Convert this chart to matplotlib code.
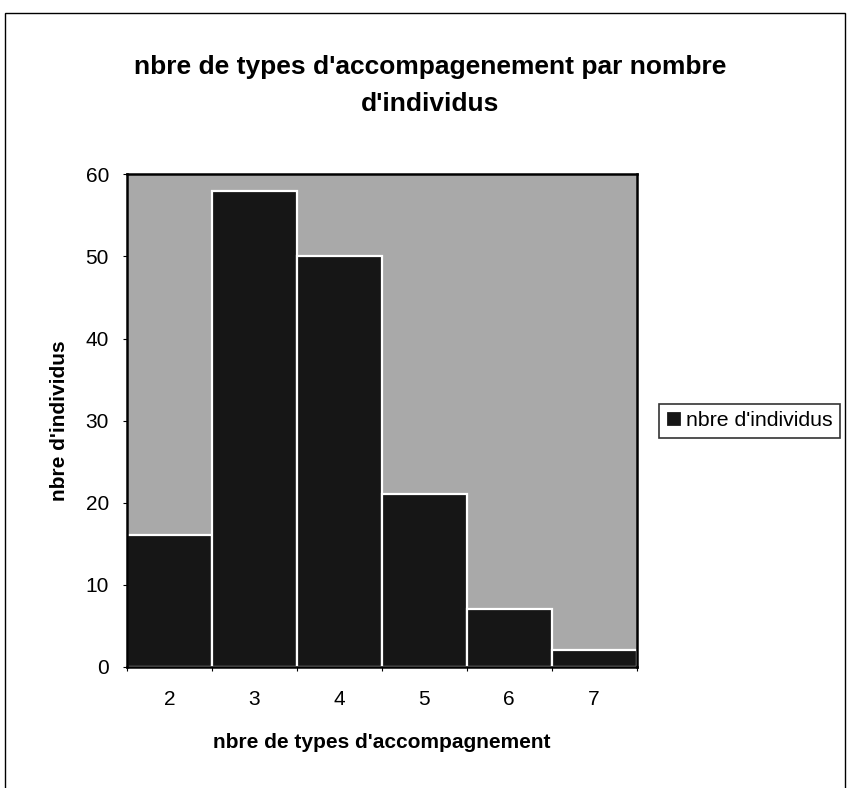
import matplotlib

matplotlib.use("Agg")
import matplotlib.pyplot as plt
from matplotlib.patches import Rectangle

plt.rcParams["font.family"] = ["Liberation Sans", "DejaVu Sans"]

# ---------------------------------------------------------------- data
types = [2, 3, 4, 5, 6, 7]
individus = [16, 58, 50, 21, 7, 2]
series = "nbre d'individus"
title = ["nbre de types d'accompagenement par nombre", "d'individus"]

BAR, BG = "#161616", "#a9a9a9"

fig = plt.figure(figsize=(8.5, 7.88), dpi=100)
ax = fig.add_axes([0.1494, 0.154, 0.5996, 0.6246])
ax.set_facecolor(BG)

xs = range(len(types))
ax.bar(xs, individus, 1.0, color=BAR, edgecolor="white", linewidth=1.6,
       label=series, zorder=2)

ax.set_xlim(-0.5, len(types) - 0.5)
ax.set_ylim(0, 60)
ax.set_yticks(range(0, 61, 10))
ax.set_xticks(list(xs))
ax.set_xticklabels([str(t) for t in types])
ax.set_xticks([x + 0.5 for x in range(-1, len(types))], minor=True)
ax.tick_params(axis="x", which="major", length=0, pad=17, labelsize=15)
ax.tick_params(axis="x", which="minor", length=3, width=0.8)
ax.tick_params(axis="y", length=3, width=0.8, pad=10, labelsize=15)
for s in ax.spines.values():
    s.set_linewidth(1.8)
    s.set_color("black")

ax.set_xlabel("nbre de types d'accompagnement", fontsize=15,
              fontweight="bold", labelpad=17)
ax.set_ylabel("nbre d'individus", fontsize=15, fontweight="bold",
              labelpad=12)

for y, line in zip((0.9065, 0.8595), title):
    fig.text(0.506, y, line, ha="center", va="baseline", fontsize=19,
             fontweight="bold")

leg = ax.legend(loc="center left", bbox_to_anchor=(1.043, 0.5),
                fontsize=15.3, frameon=True, fancybox=False,
                handlelength=0.75, handleheight=0.75, handletextpad=0.2,
                borderpad=0.35, borderaxespad=0)
leg.get_frame().set_edgecolor("black")
leg.get_frame().set_linewidth(1.2)

# outer chart border
fig.patches.append(Rectangle((0.006, -0.02), 0.988, 1.0035, fill=False,
                             edgecolor="black", linewidth=1.0,
                             transform=fig.transFigure, figure=fig))

fig.savefig("out.png", dpi=100)
